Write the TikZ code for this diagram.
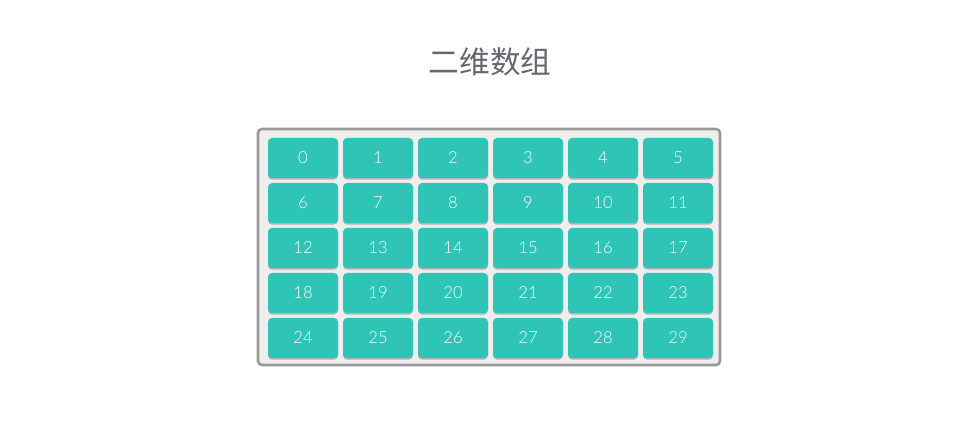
\documentclass[tikz,border=0pt]{standalone}
\usepackage{fontspec}
\setmainfont{Lato}
\newfontfamily\numfont{Lato Light}
\newfontfamily\cjk{Noto Sans CJK SC}
\usetikzlibrary{shadows}
\definecolor{cellteal}{HTML}{2EC4B6}
\definecolor{boxgray}{HTML}{999999}
\definecolor{boxfill}{HTML}{EEEEEE}
\definecolor{titlegray}{HTML}{66666F}
\tikzset{
  cellbox/.style={rectangle, rounded corners=3pt, fill=cellteal, minimum width=52.5pt, minimum height=30pt, inner sep=0pt,
    text=white, font=\numfont\fontsize{12.5}{13}\selectfont,
    drop shadow={shadow xshift=0pt, shadow yshift=-1.2pt, fill=black, opacity=0.25}},
  container/.style={rectangle, rounded corners=3pt, draw=boxgray, line width=1.9pt, fill=boxfill, inner sep=0pt,
    drop shadow={shadow xshift=0.6pt, shadow yshift=-0.8pt, fill=black, opacity=0.15}},
  titletext/.style={text=titlegray, font=\cjk\fontsize{23}{26}\selectfont}
}
\begin{document}
\begin{tikzpicture}[x=0.75pt, y=-0.75pt]
\useasboundingbox (0,0) rectangle (980,448);
\node[titletext] (title) at (490,62) {二维数组};
\node[container, minimum width=346.5pt, minimum height=177pt] (frame) at (489,247) {};
\foreach \r in {0,...,4}{
  \foreach \c in {0,...,5}{
    \pgfmathtruncatemacro{\n}{6*\r+\c}
    \node[cellbox] (cell\n) at (303+75*\c, 158+45*\r) {\n};
  }
}
\end{tikzpicture}
\end{document}
